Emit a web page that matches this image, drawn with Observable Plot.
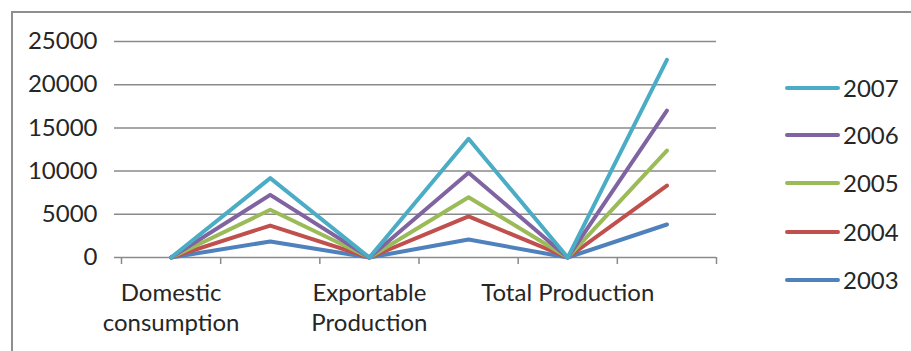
<!DOCTYPE html>
<html><head><meta charset="utf-8">
<script src="https://cdn.jsdelivr.net/npm/d3@7"></script>
<script src="https://cdn.jsdelivr.net/npm/@observablehq/plot@0.6"></script>
<style>
body{margin:0;background:#fff;}
#wrap{position:relative;width:911px;height:351px;overflow:hidden;font-family:Lato,sans-serif;background:#fff;}
#frame{position:absolute;left:11px;top:11px;width:1000px;height:1000px;border:2px solid #8f8f8f;box-sizing:border-box;}
#chart{position:absolute;left:0;top:0;}
.leg{position:absolute;left:785px;display:flex;align-items:center;font-size:24px;color:#262626;transform:translateY(-50%);line-height:1;}
.leg .sw{display:inline-block;width:55px;height:4px;border-radius:2px;margin-right:3px;}
</style></head>
<body><div id="wrap"><div id="frame"></div><div id="chart"></div><div id="legend"></div></div>
<script>
const categories = ["Domestic\nconsumption", "", "Exportable\nProduction", "", "Total Production", ""];
const years = ["2003", "2004", "2005", "2006", "2007"];
const colors = ["#4F81BD", "#C0504D", "#9BBB59", "#8064A2", "#4BACC6"];
const v2003 = [0, 1850, 0, 2080, 0, 3820];
const v2004 = [0, 3700, 0, 4750, 0, 8330];
const v2005 = [0, 5520, 0, 6980, 0, 12380];
const v2006 = [0, 7250, 0, 9800, 0, 17010];
const v2007 = [0, 9180, 0, 13740, 0, 22880];
const yTicks = [0, 5000, 10000, 15000, 20000, 25000];

const series = [v2003, v2004, v2005, v2006, v2007];
const data = [];
series.forEach((vals, s) => vals.forEach((v, i) => data.push({year: years[s], x: i + 0.5, value: v})));
const labelTicks = categories.map((c, i) => i).filter(i => categories[i]).map(i => i + 0.5);

const chart = Plot.plot({
  width: 760, height: 351,
  marginLeft: 114, marginRight: 44, marginTop: 41, marginBottom: 94,
  x: {type: "linear", domain: [0, categories.length], range: [121, 716], label: null},
  y: {domain: [0, 25000], range: [257, 41], label: null},
  color: {domain: years, range: colors},
  style: {fontFamily: "Lato, sans-serif", fontSize: "24px", color: "#262626", background: "transparent"},
  marks: [
    Plot.gridY(yTicks, {stroke: "#8a8a8a", strokeOpacity: 1, strokeWidth: 1.5}),
    Plot.axisY(yTicks, {tickSize: 0, tickPadding: 17, tickFormat: d => String(d), color: "#262626", fontSize: 24, label: null}),
    Plot.axisX(d3.range(categories.length + 1), {tickSize: 7, tickFormat: () => "", stroke: "#8a8a8a", strokeWidth: 1.5, label: null}),
    Plot.axisX(labelTicks, {tickSize: 0, tickPadding: 22, tickFormat: d => categories[d - 0.5], color: "#262626", fontSize: 24, lineHeight: 1.25, label: null}),
    Plot.line(data, {x: "x", y: "value", z: "year", stroke: "year", strokeWidth: 4})
  ]
});
document.getElementById("chart").appendChild(chart);

const legendTops = [280, 231.7, 182.7, 135, 87.7];
const legend = document.getElementById("legend");
years.forEach((y, i) => {
  const d = document.createElement("div");
  d.className = "leg";
  d.style.top = legendTops[i] + "px";
  d.innerHTML = `<span class="sw" style="background:${colors[i]}"></span><span>${y}</span>`;
  legend.appendChild(d);
});
</script>
</body></html>
